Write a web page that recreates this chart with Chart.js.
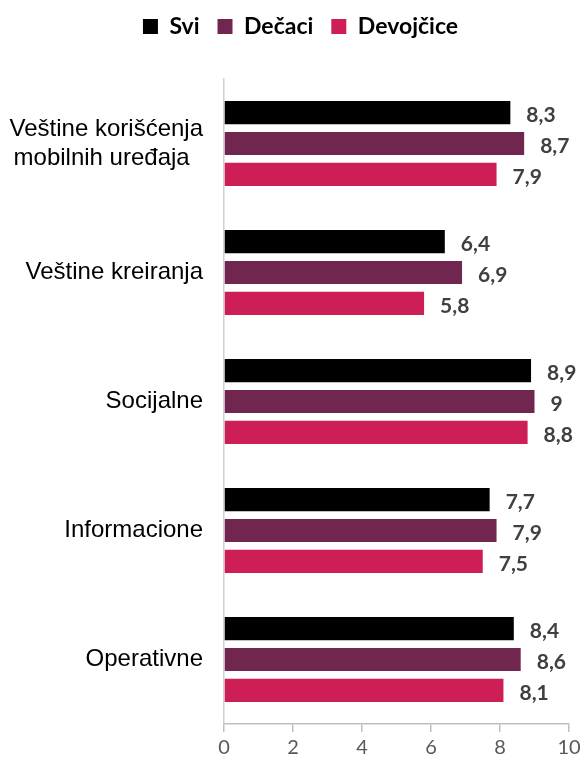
<!DOCTYPE html>
<html>
<head>
<meta charset="utf-8">
<script src="https://cdn.jsdelivr.net/npm/chart.js@4"></script>
<style>
  html, body { margin: 0; padding: 0; background: #fff; }
  #wrap { width: 585px; height: 765px; }
</style>
</head>
<body>
<div id="wrap"><canvas id="my_chart" width="585" height="765"></canvas></div>
<script>
// Categories and values
const categories = [
  ['Veštine korišćenja', 'mobilnih uređaja\u00a0\u00a0'],
  'Veštine kreiranja',
  'Socijalne',
  'Informacione',
  'Operativne'
];
const svi = [8.3, 6.4, 8.9, 7.7, 8.4];
const decaci = [8.7, 6.9, 9, 7.9, 8.6];
const devojcice = [7.9, 5.8, 8.8, 7.5, 8.1];
const xTicks = [0, 2, 4, 6, 8, 10];

// Draw the value next to each bar (comma as decimal sign)
const valueLabels = {
  id: 'valueLabels',
  afterDatasetsDraw(chart) {
    const ctx = chart.ctx;
    ctx.save();
    ctx.font = 'bold 21px Lato';
    ctx.fillStyle = '#404040';
    ctx.textAlign = 'left';
    ctx.textBaseline = 'middle';
    chart.data.datasets.forEach((ds, i) => {
      const meta = chart.getDatasetMeta(i);
      meta.data.forEach((bar, j) => {
        const txt = String(ds.data[j]).replace('.', ',');
        ctx.fillText(txt, bar.x + 16, bar.y + 3);
      });
    });
    ctx.restore();
  }
};

// Leave some empty room under the legend and nudge it a bit, like the original
const legendSpace = {
  id: 'legendSpace',
  beforeInit(chart) {
    const legend = chart.legend;
    if (!legend) return;
    const fit = legend.fit.bind(legend);
    legend.fit = function () {
      fit();
      this.height += 28;
    };
    const draw = legend.draw.bind(legend);
    legend.draw = function () {
      chart.ctx.save();
      chart.ctx.translate(16, -3);
      draw();
      chart.ctx.restore();
    };
  }
};

const ctx = document.getElementById('my_chart').getContext('2d');

const config = {
  type: 'bar',
  data: {
    labels: categories,
    datasets: [
      { label: 'Svi', data: svi, backgroundColor: '#000000' },
      { label: 'Dečaci', data: decaci, backgroundColor: '#70264f' },
      { label: 'Devojčice', data: devojcice, backgroundColor: '#cd1f56' }
    ]
  },
  options: {
    indexAxis: 'y',
    responsive: false,
    animation: false,
    categoryPercentage: 0.72,
    barPercentage: 0.75,
    layout: { padding: { left: 0, right: 16, top: 0, bottom: 0 } },
    plugins: {
      tooltip: { enabled: false },
      legend: {
        position: 'top',
        labels: {
          boxWidth: 15,
          boxHeight: 15,
          padding: 18,
          color: '#000000',
          font: { family: 'Lato', size: 23, weight: 'bold' }
        }
      }
    },
    scales: {
      x: {
        min: 0,
        max: 10,
        afterBuildTicks: axis => { axis.ticks = xTicks.map(v => ({ value: v })); },
        afterFit: axis => { axis.height = 41; },
        border: { display: true, color: '#bfbfbf', width: 1.5 },
        grid: { drawOnChartArea: false, drawTicks: true, tickLength: 8, color: '#bfbfbf', lineWidth: 1.5 },
        ticks: { color: '#595959', padding: 4, font: { family: 'Lato', size: 20 } }
      },
      y: {
        afterFit: axis => {
          axis.width = 224;
          axis.paddingTop = 0;
          axis.paddingBottom = 0;
        },
        border: { display: true, color: '#d0d0d0', width: 1.5 },
        grid: { display: false, drawTicks: false },
        ticks: { color: '#000000', padding: 21, font: { family: 'Liberation Sans', size: 24 } }
      }
    }
  },
  plugins: [valueLabels, legendSpace]
};

const myChart = new Chart(ctx, config);
</script>
</body>
</html>
